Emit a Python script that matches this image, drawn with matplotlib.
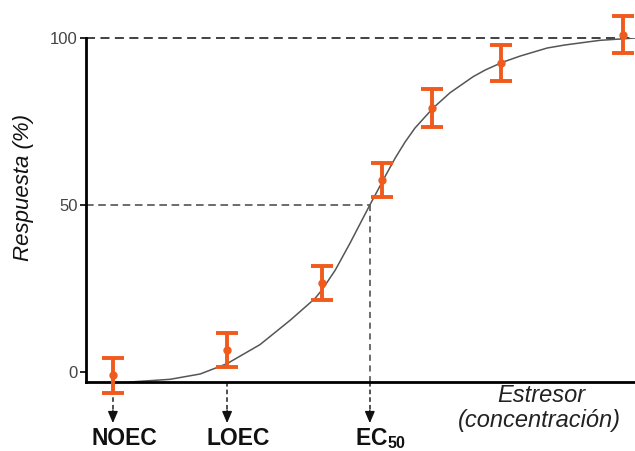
import matplotlib.pyplot as plt

plt.rcParams['font.family'] = ['Liberation Sans', 'DejaVu Sans']
plt.rcParams['mathtext.fontset'] = 'custom'
plt.rcParams['mathtext.bf'] = 'Liberation Sans:bold'
plt.rcParams['mathtext.rm'] = 'Liberation Sans'

# measured responses (mean +/- error)
conc = [4.9, 25.7, 43.0, 53.9, 63.0, 75.6, 97.8]
resp = [-1.0, 6.6, 26.6, 57.5, 79.0, 92.5, 101.0]
err = [5.2, 5.2, 5.0, 5.1, 5.6, 5.4, 5.6]

# fitted dose-response curve
curve_x = [8.0, 15.3, 20.8, 25.7, 31.7, 37.2, 41.7, 43.0, 45.4, 48.1, 49.9,
           51.7, 54.5, 56.3, 58.1, 59.9, 63.2, 66.3, 70.5, 72.7, 75.8, 79.1,
           84.0, 87.2, 91.3, 93.6, 97.3, 100.0]
curve_y = [-3.0, -2.2, -0.6, 2.5, 8.2, 15.5, 22.0, 24.6, 30.5, 38.6, 44.3,
           50.0, 58.6, 64.0, 68.8, 73.0, 79.0, 83.6, 88.4, 90.4, 92.7, 94.6,
           97.0, 97.9, 98.8, 99.3, 99.7, 100.0]

# endpoints
ec_names = ['NOEC', 'LOEC', r'$\mathbf{EC_{50}}$']
ec_x = [4.9, 25.7, 51.7]
ec50_y = 50

orange = '#f05a1c'

fig = plt.figure(figsize=(6.35, 4.51), dpi=100)
ax = fig.add_axes([86 / 635, 1 - 382 / 451, 1 - 86 / 635, 344 / 451])
ax.set_xlim(0, 100)
ax.set_ylim(-3, 100)

# reference dashed lines
ax.plot([0, 99], [100, 100], ls=(0, (5, 3)), color='#333333', lw=1.3, clip_on=False)
ax.plot([0, ec_x[2]], [ec50_y, ec50_y], ls=(0, (5, 3)), color='#444444', lw=1.1)
ax.plot([ec_x[2], ec_x[2]], [ec50_y, -3], ls=(0, (4, 3)), color='#444444', lw=1.1)

ax.plot(curve_x, curve_y, color='#555555', lw=1.1, zorder=2)

ax.errorbar(conc, resp, yerr=err, fmt='o', color=orange, ms=5, elinewidth=2.8,
            capsize=8, capthick=2.8, clip_on=False, zorder=3)

# arrows below the axis
for name, x in zip(ec_names, ec_x):
    ax.plot([x, x], [-3, -12.0], ls=(0, (3, 2)), color='#222222', lw=1.1, clip_on=False)
    ax.annotate('', xy=(x, -15.3), xytext=(x, -11.5),
                arrowprops=dict(arrowstyle='-|>,head_width=0.3,head_length=0.7',
                                color='#111111', lw=1, shrinkA=0, shrinkB=0),
                annotation_clip=False)
    ax.text(x + 2.0, -21.8, name, ha='center', va='baseline', fontsize=16.5,
            fontweight='bold', color='#111111', clip_on=False)

ax.text(83.0, -3.6, 'Estresor', ha='center', va='top', fontsize=17,
        style='italic', color='#222222')
ax.text(82.5, -11.2, '(concentración)', ha='center', va='top', fontsize=17,
        style='italic', color='#222222')

ax.set_ylabel('Respuesta (%)', fontsize=16, style='italic', color='#111111')
ax.yaxis.set_label_coords(-0.095, 0.565)

for s in ['top', 'right']:
    ax.spines[s].set_visible(False)
ax.spines['left'].set_linewidth(2)
ax.spines['bottom'].set_linewidth(2)
ax.set_xticks([])
ax.set_yticks([0, 50, 100])
ax.tick_params(axis='y', length=4, width=1.2, labelsize=12, labelcolor='#444444', pad=2)

fig.savefig('out.png', dpi=100)
